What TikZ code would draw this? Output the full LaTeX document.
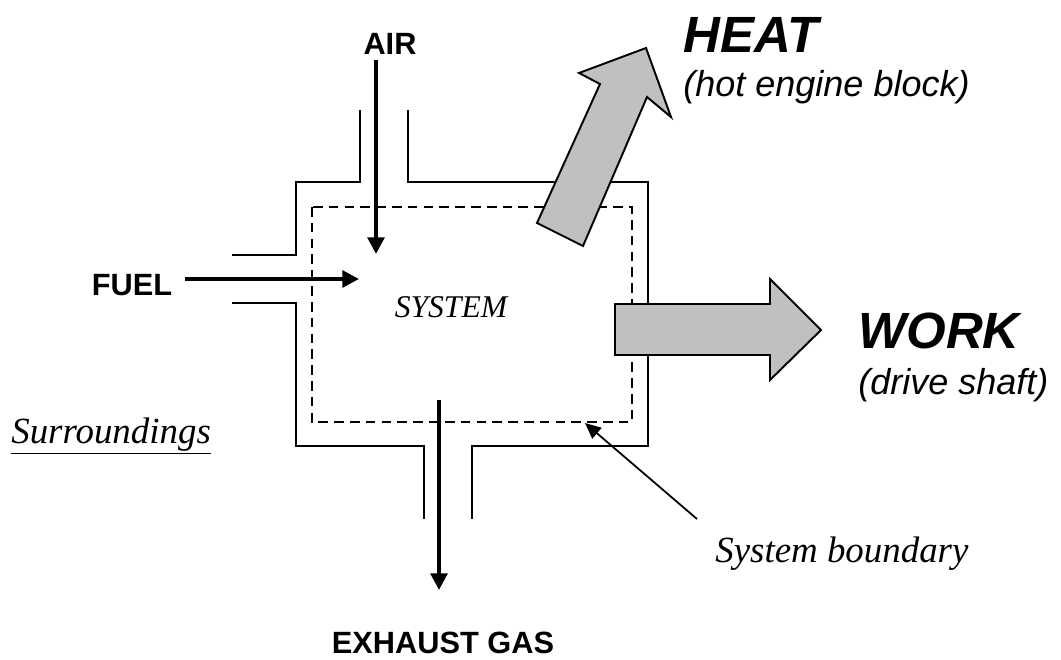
\documentclass[tikz,border=0pt]{standalone}
\usepackage{fontspec}
\setmainfont{Liberation Serif}
\setsansfont{Liberation Sans}
\usepackage{tikz}
\usetikzlibrary{arrows.meta, positioning, calc}
\definecolor{energygray}{HTML}{C0C0C0}

\begin{document}
\begin{tikzpicture}[
  x=0.02cm, y=-0.02cm,
  wall/.style={draw=black, line width=1.1pt},
  boundary/.style={draw=black, line width=1.1pt, dash pattern=on 5.5pt off 3.5pt},
  flow/.style={line width=2.2pt, -{Triangle[length=9.5pt, width=9.5pt]}},
  pointer/.style={line width=1pt, -{Triangle[length=9pt, width=8pt]}},
  energy/.style={draw=black, line width=1.1pt, fill=energygray, line join=miter},
  caption/.style={inner sep=3pt, font=\sffamily\bfseries\fontsize{17.5}{20}\selectfont},
  bigcaption/.style={inner sep=0pt, anchor=west, font=\sffamily\bfseries\itshape\fontsize{29}{34}\selectfont},
  subcaption/.style={inner sep=0pt, anchor=west, font=\sffamily\itshape\fontsize{20.5}{24}\selectfont},
  note/.style={inner sep=0pt, font=\itshape\fontsize{21}{25}\selectfont},
]
\useasboundingbox (0,0) rectangle (1061,659);

% engine walls
\draw[wall] (360,110) -- (360,182) -- (296,182) -- (296,255) -- (232,255);
\draw[wall] (232,303) -- (296,303) -- (296,446) -- (424,446) -- (424,519);
\draw[wall] (408,110) -- (408,182) -- (648,182) -- (648,446) -- (472,446) -- (472,519);

% system boundary
\draw[boundary] (312,207) rectangle (632,422);

% labels
\node[caption] (air)     at (390,44)  {AIR};
\node[caption] (fuel)    at (132,285) {FUEL};
\node[caption] (exhaust) at (443,643) {EXHAUST GAS};
\node[note, font=\itshape\fontsize{18}{22}\selectfont] (system) at (451,307) {SYSTEM};
\node[note, anchor=base west] (surr)  at (11,443)  {\underline{Surroundings}};
\node[note, anchor=base west] (blabel) at (715,562) {System boundary};

% mass flows
\coordinate (airtip)  at (376,254);
\coordinate (fueltip) at (359,279);
\coordinate (exhin)   at (439,400);
\coordinate (exhtip)  at (439,590);
\draw[flow] (air.south -| airtip) -- (airtip);
\draw[flow] ([xshift=4pt]fuel.east |- fueltip) -- (fueltip);
\draw[flow] (exhin) -- (exhtip);

% boundary pointer
\coordinate (bfoot) at (697,519);
\coordinate (bhit)  at (585,423);
\draw[pointer] (bfoot) -- (bhit);

% heat and work arrows
\draw[energy] (537,223) -- (600,84) -- (579,73) -- (646,48) -- (671,117)
  -- (647,97) -- (583,246) -- cycle;
\draw[energy] (615,304) -- (770,304) -- (770,279) -- (821,330) -- (770,380)
  -- (770,355) -- (615,355) -- cycle;

\node[bigcaption] (heat) at (683,35)  {HEAT};
\node[subcaption, below=0.35cm of heat.south west, anchor=north west] (heatsub) {(hot engine block)};
\node[bigcaption] (work) at (858,331) {WORK};
\node[subcaption] (worksub) at (858,385) {(drive shaft)};

\end{tikzpicture}
\end{document}
